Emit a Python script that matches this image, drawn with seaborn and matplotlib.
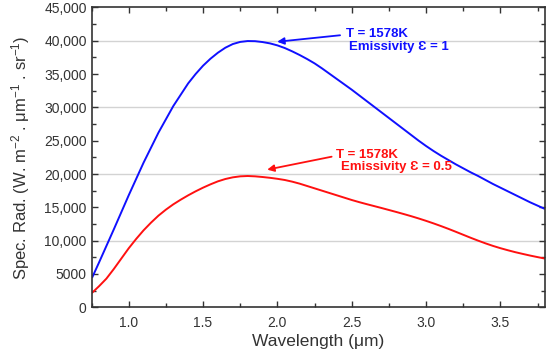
import numpy as np
import pandas as pd
import seaborn as sns
import matplotlib.pyplot as plt
from matplotlib.ticker import MultipleLocator, FuncFormatter

sns.set_theme(style="ticks")
plt.rcParams["font.family"] = ["Liberation Sans", "DejaVu Sans"]
plt.rcParams["mathtext.fontset"] = "custom"
plt.rcParams["mathtext.rm"] = "Liberation Sans"
plt.rcParams["mathtext.it"] = "Liberation Sans:italic"

# values (um, W m-2 um-1 sr-1)
wavelength = [0.755, 0.80, 0.85, 0.90, 0.95, 1.00, 1.05, 1.10, 1.15, 1.20,
              1.25, 1.30, 1.35, 1.40, 1.45, 1.50, 1.55, 1.60, 1.65, 1.70,
              1.75, 1.80, 1.85, 1.90, 1.95, 2.00, 2.05, 2.10, 2.15, 2.20,
              2.25, 2.30, 2.35, 2.40, 2.45, 2.50, 2.55, 2.60, 2.65, 2.70,
              2.75, 2.80, 2.85, 2.90, 2.95, 3.00, 3.05, 3.10, 3.15, 3.20,
              3.25, 3.30, 3.35, 3.40, 3.45, 3.50, 3.55, 3.60, 3.65, 3.70,
              3.75, 3.795]
rad_eps1 = [4500, 6700, 9200, 11700, 14250, 16800, 19250, 21700, 23950, 26200,
            28200, 30200, 31900, 33600, 35000, 36250, 37300, 38200, 38950, 39500,
            39820, 39950, 39930, 39800, 39600, 39300, 38900, 38400, 37850, 37250,
            36600, 35850, 35050, 34250, 33450, 32650, 31800, 30950, 30100, 29250,
            28400, 27550, 26700, 25850, 25000, 24200, 23450, 22750, 22100, 21450,
            20850, 20250, 19700, 19100, 18500, 17950, 17400, 16850, 16300, 15750,
            15250, 14800]
rad_eps05 = [2200, 3150, 4300, 5750, 7300, 8850, 10250, 11550, 12700, 13750,
             14650, 15450, 16150, 16800, 17400, 17950, 18450, 18900, 19250, 19500,
             19650, 19700, 19650, 19550, 19430, 19280, 19100, 18850, 18550, 18200,
             17850, 17500, 17150, 16800, 16450, 16100, 15780, 15480, 15190, 14900,
             14600, 14300, 13990, 13670, 13330, 12970, 12590, 12190, 11770, 11330,
             10880, 10430, 10000, 9590, 9210, 8870, 8560, 8270, 8010, 7760,
             7530, 7330]

label_line1 = "T = 1578K"
label_blue = "Emissivity \u0190 = 1"
label_red = "Emissivity \u0190 = 0.5"
grid_levels = [10000, 20000, 30000, 40000]

df = pd.concat([
    pd.DataFrame(dict(wl=wavelength, rad=rad_eps1, eps="1")),
    pd.DataFrame(dict(wl=wavelength, rad=rad_eps05, eps="0.5")),
])

BLUE = "#1010ff"
RED = "#ff1010"

fig = plt.figure(figsize=(5.5, 3.52), dpi=100)
ax = fig.add_axes([0.1664, 0.127, 0.8246, 0.852])

for lvl in grid_levels:
    ax.axhline(lvl, color="#d3d3d3", lw=1.0, zorder=0)

sns.lineplot(data=df, x="wl", y="rad", hue="eps", palette={"1": BLUE, "0.5": RED},
             lw=1.4, legend=False, ax=ax, sort=False, solid_joinstyle="round")

ax.set_xlim(0.75, 3.8)
ax.set_ylim(0, 45000)
ax.xaxis.set_major_locator(MultipleLocator(0.5))
ax.xaxis.set_minor_locator(MultipleLocator(0.25))
ax.yaxis.set_major_locator(MultipleLocator(5000))
ax.yaxis.set_minor_locator(MultipleLocator(2500))
ax.xaxis.set_major_formatter(FuncFormatter(lambda v, p: f"{v:.1f}"))
ax.yaxis.set_major_formatter(FuncFormatter(lambda v, p: f"{int(v):,}" if v >= 10000 else f"{int(v)}"))
ax.tick_params(which="both", direction="in", top=True, right=True, color="#333333", width=1.0)
ax.tick_params(which="major", length=4, labelsize=10, labelcolor="#333333")
ax.tick_params(which="minor", length=3)
ax.tick_params(axis="x", pad=6)
for s in ax.spines.values():
    s.set_color("#333333")
    s.set_linewidth(1.2)

ax.set_xlabel("Wavelength (\u03bcm)", fontsize=12.5, color="#333333", labelpad=3)
ax.set_ylabel("Spec. Rad. (W. m$^{-2}$ . \u03bcm$^{-1}$ . sr$^{-1}$)", fontsize=12,
              color="#333333", labelpad=9)

# annotations
ax.annotate("", xy=(1.98, 39800), xytext=(2.44, 40860),
            arrowprops=dict(arrowstyle="-|>", color=BLUE, lw=1.3, mutation_scale=10))
ax.text(2.459, 41010, label_line1, color=BLUE, fontsize=9.5, fontweight="bold", va="center")
ax.text(2.48, 39050, label_blue, color=BLUE, fontsize=9.5, fontweight="bold", va="center")

ax.annotate("", xy=(1.913, 20570), xytext=(2.383, 22680),
            arrowprops=dict(arrowstyle="-|>", color=RED, lw=1.3, mutation_scale=10))
ax.text(2.395, 22790, label_line1, color=RED, fontsize=9.5, fontweight="bold", va="center")
ax.text(2.427, 20980, label_red, color=RED, fontsize=9.5, fontweight="bold", va="center")

fig.savefig("out.png", dpi=100)
